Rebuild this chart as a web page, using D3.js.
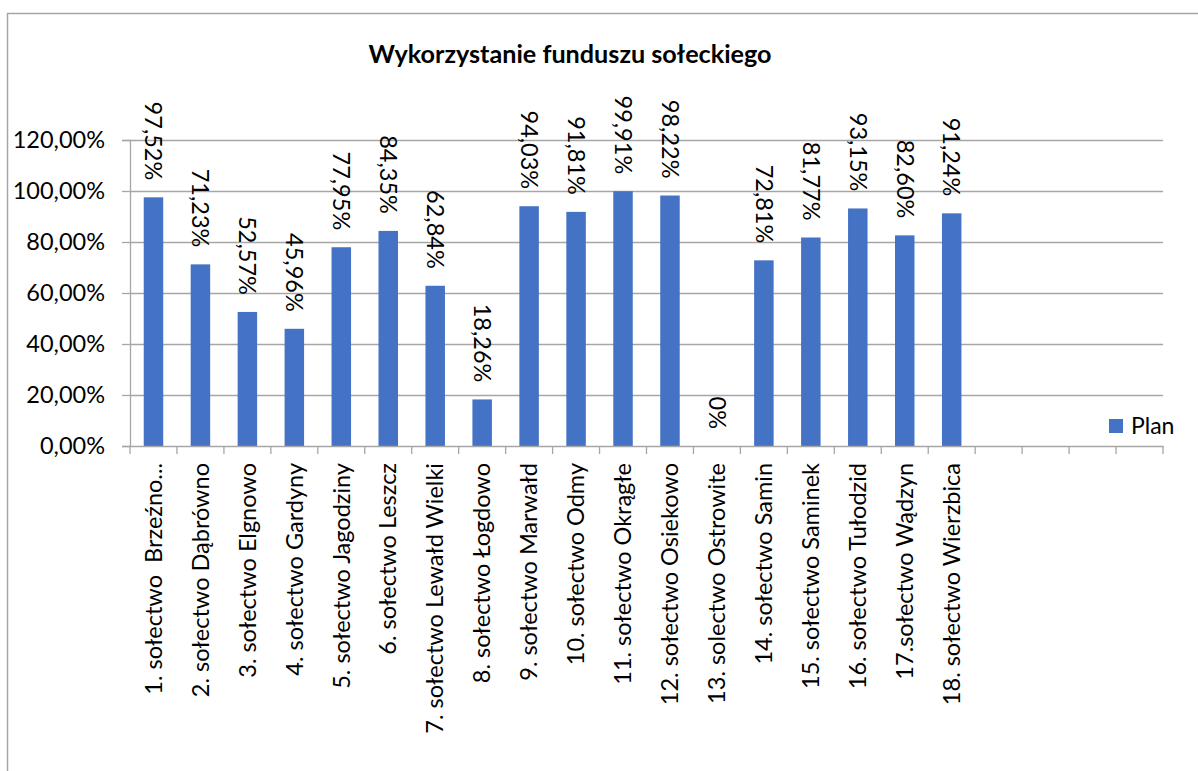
<!DOCTYPE html>
<html><head><meta charset="utf-8">
<script src="https://cdn.jsdelivr.net/npm/d3@7"></script>
<style>body{margin:0;background:#fff;}svg{display:block;}</style>
</head><body>
<svg id="c" width="1198" height="771"></svg>
<script>
const title = "Wykorzystanie funduszu sołeckiego";
const categories = [
  "1. sołectwo  Brzeźno...",
  "2. sołectwo Dąbrówno",
  "3. sołectwo Elgnowo",
  "4. sołectwo Gardyny",
  "5. sołectwo Jagodziny",
  "6. sołectwo Leszcz",
  "7. sołectwo Lewałd Wielki",
  "8. sołectwo Łogdowo",
  "9. sołectwo Marwałd",
  "10. sołectwo Odmy",
  "11. sołectwo Okrągłe",
  "12. sołectwo Osiekowo",
  "13. solectwo Ostrowite",
  "14. sołectwo Samin",
  "15. sołectwo Saminek",
  "16. sołectwo Tułodzid",
  "17.sołectwo Wądzyn",
  "18. sołectwo Wierzbica",
  "", "", "", ""
];
const planValues = [97.52, 71.23, 52.57, 45.96, 77.95, 84.35, 62.84, 18.26, 94.03, 91.81, 99.91, 98.22, 0, 72.81, 81.77, 93.15, 82.60, 91.24, null, null, null, null];
const valueLabels = ["97,52%","71,23%","52,57%","45,96%","77,95%","84,35%","62,84%","18,26%","94,03%","91,81%","99,91%","98,22%","0%","72,81%","81,77%","93,15%","82,60%","91,24%"];
const yTicks = [0, 20, 40, 60, 80, 100, 120];
const yTickLabels = ["0,00%","20,00%","40,00%","60,00%","80,00%","100,00%","120,00%"];
const seriesName = "Plan";

const svg = d3.select("#c");
const FONT = "Lato, 'Open Sans', sans-serif";
const pLeft = 130, pRight = 1163, pTop = 140, pBottom = 446;

svg.append("rect").attr("x",7.5).attr("y",13.5).attr("width",1300).attr("height",900)
  .attr("fill","#fff").attr("stroke","#a6a6a6").attr("stroke-width",1.5);

svg.append("text").attr("x",570).attr("y",63).attr("text-anchor","middle")
  .attr("font-family",FONT).attr("font-weight","bold").attr("font-size",25.2).attr("fill","#000")
  .text(title);

const idx = categories.map((d,i)=>i);
const x = d3.scaleBand().domain(idx).range([pLeft,pRight]).paddingInner(0.585).paddingOuter(0.2925);
const xStep = d3.scaleBand().domain(idx).range([pLeft,pRight]);
const y = d3.scaleLinear().domain([0,120]).range([pBottom,pTop]);

// gridlines
svg.append("g").selectAll("line").data(yTicks.filter(t=>t>0)).join("line")
  .attr("x1",pLeft).attr("x2",pRight).attr("y1",d=>y(d)+0.5).attr("y2",d=>y(d)+0.5)
  .attr("stroke","#a6a6a6").attr("stroke-width",1.3);

// y axis
const yAxis = d3.axisLeft(y).tickValues(yTicks).tickSize(8).tickPadding(17)
  .tickFormat((d,i)=>yTickLabels[i]);
const gy = svg.append("g").attr("transform",`translate(${pLeft},0)`).call(yAxis);
gy.select(".domain").attr("stroke","#a6a6a6").attr("stroke-width",1.3);
gy.selectAll(".tick line").attr("stroke","#a6a6a6").attr("stroke-width",1.3);
gy.selectAll(".tick text").attr("font-family",FONT).attr("font-size",23.5).attr("fill","#000");

// bars
svg.append("g").selectAll("rect").data(planValues.map((v,i)=>({v,i})).filter(d=>d.v!==null)).join("rect")
  .attr("x",d=>x(d.i)).attr("width",x.bandwidth())
  .attr("y",d=>y(d.v)).attr("height",d=>pBottom-y(d.v))
  .attr("fill","#4472C4");

// x axis
const xAxis = d3.axisBottom(xStep).tickSize(0).tickFormat("");
const gx = svg.append("g").attr("transform",`translate(0,${pBottom})`).call(xAxis);
gx.select(".domain").attr("stroke","#a6a6a6").attr("stroke-width",1.3);
gx.selectAll(".tick").remove();
const tickPos = idx.map(i=>xStep(i)).concat([pRight]);
gx.selectAll("line.t").data(tickPos).join("line").attr("class","t")
  .attr("x1",d=>d).attr("x2",d=>d).attr("y1",0).attr("y2",8)
  .attr("stroke","#a6a6a6").attr("stroke-width",1.3);

// category labels
svg.append("g").selectAll("text").data(categories.map((c,i)=>({c,i}))).join("text")
  .attr("transform",d=>`translate(${xStep(d.i)+xStep.bandwidth()/2},463) rotate(-90)`)
  .attr("text-anchor","end").attr("dy","0.35em")
  .style("white-space","pre")
  .attr("font-family",FONT).attr("font-size",23.5).attr("fill","#000")
  .text(d=>d.c);

// data labels
svg.append("g").selectAll("text").data(valueLabels.map((l,i)=>({l,i,v:planValues[i]}))).join("text")
  .attr("transform",d=>`translate(${xStep(d.i)+xStep.bandwidth()/2},${y(d.v)-17}) rotate(90)`)
  .attr("text-anchor","end").attr("dy","0.35em")
  .attr("font-family",FONT).attr("font-size",23.5).attr("fill","#000")
  .text(d=>d.l);

// legend
svg.append("rect").attr("x",1109).attr("y",419).attr("width",14).attr("height",14).attr("fill","#4472C4");
svg.append("text").attr("x",1131).attr("y",434).attr("font-family",FONT).attr("font-size",23).attr("fill","#000").text(seriesName);
</script>
</body></html>
